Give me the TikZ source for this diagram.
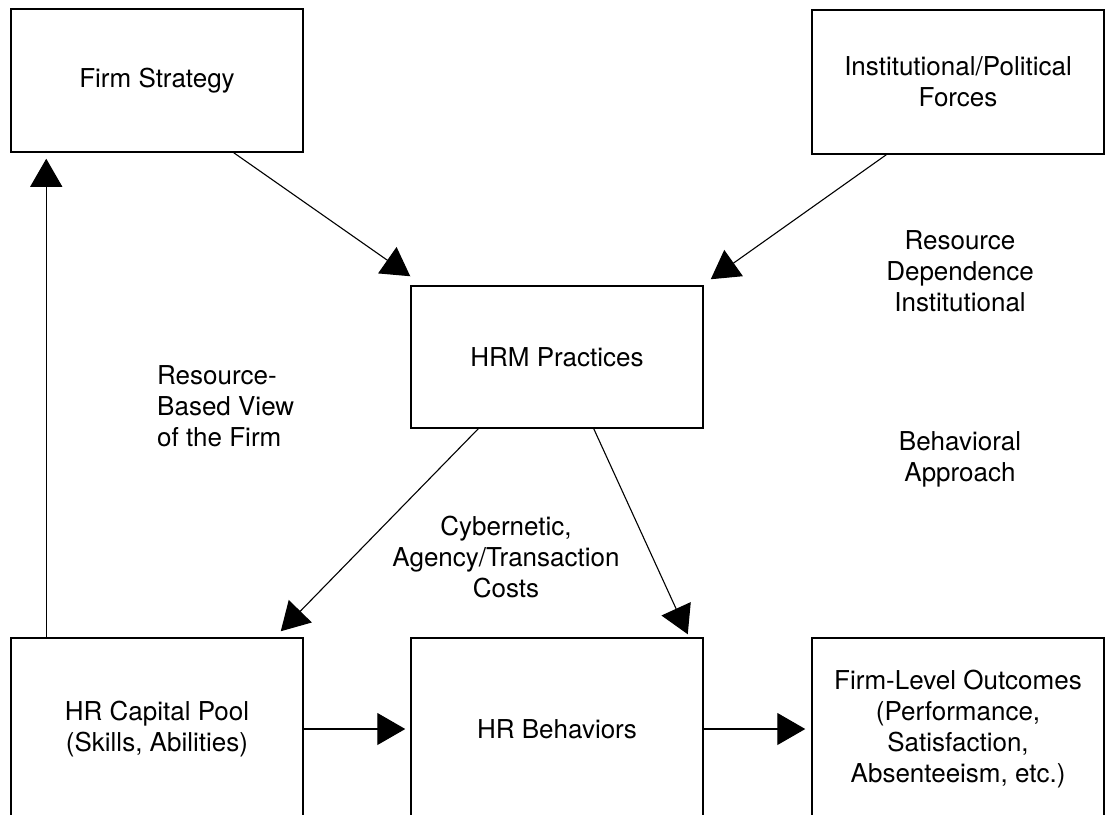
\documentclass[tikz,border=0pt]{standalone}
\usepackage{fontspec}
\setmainfont{TeX Gyre Heros}
\usetikzlibrary{arrows.meta}

\begin{document}
\begin{tikzpicture}[x=1pt,y=-1pt,
    font=\fontsize{26}{31}\selectfont,
    box/.style={draw, line width=1.5pt, minimum width=292pt, minimum height=143pt, align=center, inner sep=0pt},
    lowbox/.style={box, minimum height=182pt},
    theory/.style={align=center, inner sep=0pt},
    link/.style={line width=1.1pt, -{Triangle[length=28pt,width=32pt]}}]
    \useasboundingbox (0,0) rectangle (1107,814);
    \clip (0,0) rectangle (1107,814);
    % draw the boxes
    \node[box] (strat) at (157,80.5) {Firm Strategy};
    \node[box, minimum height=144pt] (inst) at (958,82) {Institutional/Political\\Forces};
    \node[box, minimum height=142pt] (hrm) at (557,357) {HRM Practices};
    % the bottom row runs off the page
    \node[lowbox] (cap) at (157,729) {HR Capital Pool\\(Skills, Abilities)};
    \node[lowbox] (beh) at (557,729) {HR Behaviors};
    \node[lowbox] (out) at (958,729) {Firm-Level Outcomes\\(Performance,\\Satisfaction,\\Absenteeism, etc.)};

    % the texts
    \node[theory, align=left, anchor=west] (rbv) at (157,406) {Resource-\\Based View\\of the Firm};
    \node[theory] (cyb) at (506,557) {Cybernetic,\\Agency/Transaction\\Costs};
    \node[theory] (rdi) at (960,271) {Resource\\Dependence\\Institutional};
    \node[theory] (bhv) at (960,459) {Behavioral\\Approach};

    % draw the arrows
    \draw[link] ([xshift=-70pt]strat.south east) -- ([yshift=9pt]hrm.north west);
    \draw[link] ([xshift=75pt]inst.south west) -- ([xshift=7pt,yshift=6pt]hrm.north east);
    \draw[link] ([xshift=68pt]hrm.south west) -- ([xshift=-23pt,yshift=6pt]cap.north east);
    \draw[link] ([xshift=-110pt]hrm.south east) -- ([xshift=-16pt,yshift=3pt]beh.north east);
    \draw[link] (cap.east) -- ([xshift=-5pt]beh.west);
    \draw[link] (beh.east) -- ([xshift=-6pt]out.west);
    \draw[link] ([xshift=36pt]cap.north west) -- ([xshift=36pt,yshift=-6pt]strat.south west);
\end{tikzpicture}
\end{document}
